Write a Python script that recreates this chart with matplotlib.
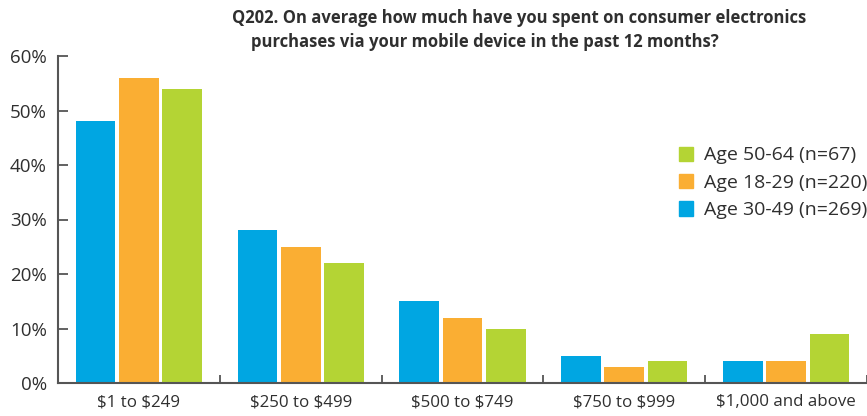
import numpy as np
import matplotlib.pyplot as plt
from matplotlib.patches import Patch

plt.rcParams['font.family'] = ['Open Sans', 'DejaVu Sans']

categories = [r"\$1 to \$249", r"\$250 to \$499", r"\$500 to \$749", r"\$750 to \$999", r"\$1,000 and above"]
age_30_49 = [48, 28, 15, 5, 4]
age_18_29 = [56, 25, 12, 3, 4]
age_50_64 = [54, 22, 10, 4, 9]
yticks = [0, 10, 20, 30, 40, 50, 60]

blue = "#00A6E2"
orange = "#FAAE33"
green = "#B4D434"
text_col = "#2f2f2f"
axis_col = "#555555"

W, H = 867, 416
fig = plt.figure(figsize=(W / 100, H / 100), dpi=100)
ax = fig.add_axes([58 / W, 1 - 383 / H, 1 - 58 / W, (383 - 56) / H])

x = np.arange(len(categories))
w = 0.245
step = 0.268
ax.bar(x - step, age_30_49, w, color=blue, label="Age 30-49 (n=269)")
ax.bar(x, age_18_29, w, color=orange, label="Age 18-29 (n=220)")
ax.bar(x + step, age_50_64, w, color=green, label="Age 50-64 (n=67)")

ax.set_xlim(-0.5, 4.448)
ax.set_ylim(0, 60)

for s in ["top", "right"]:
    ax.spines[s].set_visible(False)
for s in ["left", "bottom"]:
    ax.spines[s].set_color(axis_col)
    ax.spines[s].set_linewidth(1.5)

ax.set_yticks(yticks)
ax.set_yticklabels([f"{v}%" for v in yticks])
ax.tick_params(axis="y", direction="in", length=7, width=1.3, color=axis_col,
               pad=8, labelsize=13.5, labelcolor=text_col)

# category labels at centres, tick marks at the group boundaries
ax.set_xticks(x)
ax.set_xticklabels(categories)
ax.tick_params(axis="x", which="major", length=0, pad=8, labelsize=12.2, labelcolor=text_col)
ax.set_xticks(np.arange(len(categories)) + 0.5, minor=True)
ax.tick_params(axis="x", which="minor", direction="in", length=6, width=1.3, color=axis_col)

handles = [Patch(color=green), Patch(color=orange), Patch(color=blue)]
labels = ["Age 50-64 (n=67)", "Age 18-29 (n=220)", "Age 30-49 (n=269)"]
fig.legend(handles, labels, loc="upper left", bbox_to_anchor=(661 / W, 1 - 129 / H),
           frameon=False, fontsize=14, labelcolor=text_col, handlelength=0.75,
           handleheight=0.75, handletextpad=0.55, labelspacing=0.48)

fig.text(519 / W, 1 - 18 / H, "Q202. On average how much have you spent on consumer electronics",
         ha="center", va="center", fontsize=12, fontweight="bold", color=text_col)
fig.text(485 / W, 1 - 42 / H, "purchases via your mobile device in the past 12 months?",
         ha="center", va="center", fontsize=12, fontweight="bold", color=text_col)

fig.savefig("out.png", dpi=100)
